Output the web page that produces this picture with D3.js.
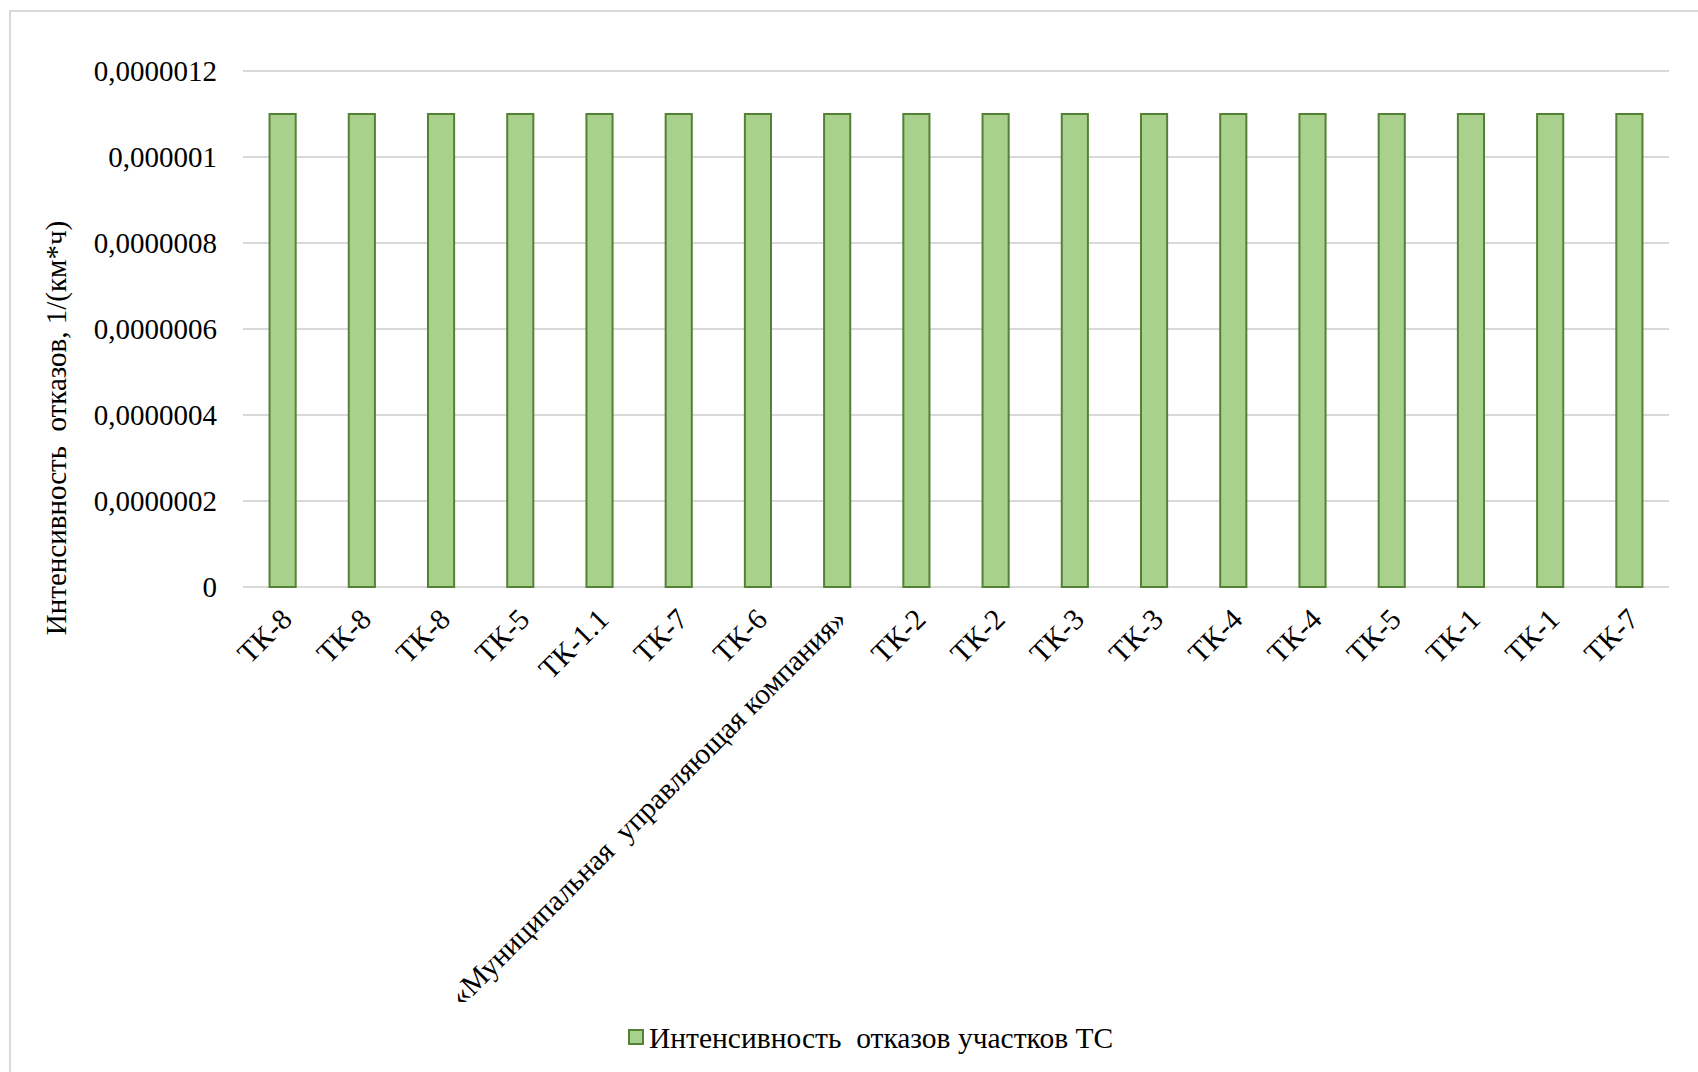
<!DOCTYPE html>
<html>
<head>
<meta charset="utf-8">
<script src="https://cdn.jsdelivr.net/npm/d3@7"></script>
<style>
  body { margin: 0; background: #fff; }
  text { font-family: "Liberation Serif", "Times New Roman", serif; fill: #000; white-space: pre; }
</style>
</head>
<body>
<script>
var categories = ["ТК-8", "ТК-8", "ТК-8", "ТК-5", "ТК-1.1", "ТК-7", "ТК-6",
  "«Муниципальная  управляющая компания»", "ТК-2", "ТК-2", "ТК-3", "ТК-3",
  "ТК-4", "ТК-4", "ТК-5", "ТК-1", "ТК-1", "ТК-7"];
var values = [0.0000011, 0.0000011, 0.0000011, 0.0000011, 0.0000011, 0.0000011,
  0.0000011, 0.0000011, 0.0000011, 0.0000011, 0.0000011, 0.0000011,
  0.0000011, 0.0000011, 0.0000011, 0.0000011, 0.0000011, 0.0000011];
var yTicks = [0, 0.0000002, 0.0000004, 0.0000006, 0.0000008, 0.000001, 0.0000012];
var yTickLabels = ["0", "0,0000002", "0,0000004", "0,0000006", "0,0000008", "0,000001", "0,0000012"];
var seriesName = "Интенсивность  отказов участков ТС";
var yTitle = "Интенсивность  отказов, 1/(км*ч)";

function init () {
  var w = 1698, h = 1072;
  var plotLeft = 243, plotRight = 1669, plotTop = 71, plotBottom = 587;

  var svg = d3.select("body").append("svg")
    .attr("width", w)
    .attr("height", h);

  // chart frame
  svg.append("rect")
    .attr("x", 10).attr("y", 11)
    .attr("width", w + 20).attr("height", h + 20)
    .attr("fill", "none")
    .attr("stroke", "#d9d9d9")
    .attr("stroke-width", 2);

  var xScale = d3.scaleBand()
    .domain(d3.range(categories.length))
    .range([plotLeft, plotRight])
    .paddingInner(0.67)
    .paddingOuter(0.335);

  var yScale = d3.scaleLinear()
    .domain([0, 0.0000012])
    .range([plotBottom, plotTop]);

  // gridlines
  svg.selectAll("line.grid")
    .data(yTicks)
    .enter()
    .append("line")
    .attr("class", "grid")
    .attr("x1", plotLeft)
    .attr("x2", plotRight)
    .attr("y1", function(d) { return yScale(d); })
    .attr("y2", function(d) { return yScale(d); })
    .attr("stroke", "#d9d9d9")
    .attr("stroke-width", 2);

  // y tick labels
  svg.selectAll("text.ytick")
    .data(yTicks)
    .enter()
    .append("text")
    .attr("class", "ytick")
    .attr("x", 217)
    .attr("y", function(d) { return yScale(d); })
    .attr("dy", "0.35em")
    .attr("text-anchor", "end")
    .style("font-size", "29px")
    .text(function(d, i) { return yTickLabels[i]; });

  // bars
  svg.selectAll("rect.bar")
    .data(values)
    .enter()
    .append("rect")
    .attr("class", "bar")
    .attr("x", function(d, i) { return xScale(i); })
    .attr("y", function(d) { return yScale(d); })
    .attr("width", xScale.bandwidth())
    .attr("height", function(d) { return plotBottom - yScale(d); })
    .attr("fill", "#a9d18e")
    .attr("stroke", "#548235")
    .attr("stroke-width", 2);

  // x labels
  svg.selectAll("text.xlab")
    .data(categories)
    .enter()
    .append("text")
    .attr("class", "xlab")
    .attr("text-anchor", "end")
    .style("font-size", "29.5px")
    .attr("transform", function(d, i) {
      var cx = xScale(i) + xScale.bandwidth() / 2 + 11;
      return "translate(" + cx + "," + (plotBottom + 34) + ") rotate(-45)";
    })
    .text(function(d) { return d; });

  // y axis title
  svg.append("text")
    .attr("transform", "translate(66,428) rotate(-90)")
    .attr("text-anchor", "middle")
    .style("font-size", "29px")
    .text(yTitle);

  // legend
  svg.append("rect")
    .attr("x", 629).attr("y", 1030)
    .attr("width", 14).attr("height", 14)
    .attr("fill", "#a9d18e")
    .attr("stroke", "#548235")
    .attr("stroke-width", 2);

  svg.append("text")
    .attr("x", 649)
    .attr("y", 1048)
    .style("font-size", "29.5px")
    .text(seriesName);
}

window.onload = init;
</script>
</body>
</html>
